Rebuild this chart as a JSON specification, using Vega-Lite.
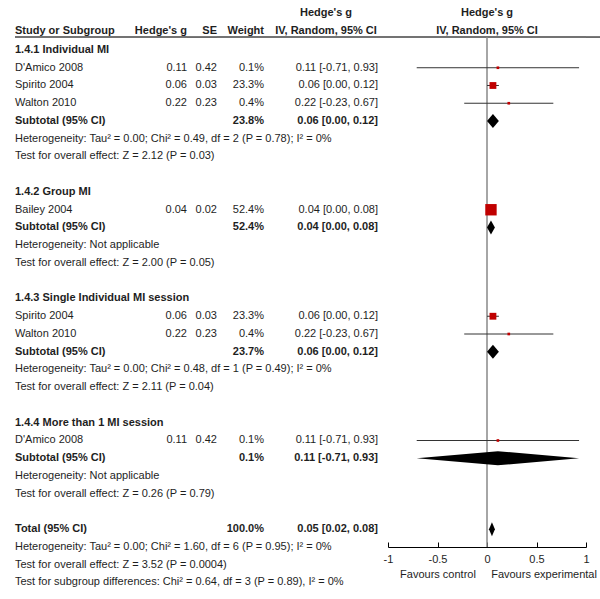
{
  "$schema": "https://vega.github.io/schema/vega-lite/v6.json",
  "padding": {"left": 14, "top": 0, "right": 0, "bottom": 0},
  "bounds": "flush",
  "spacing": 0,
  "background": "white",
  "config": {
    "view": {"stroke": null},
    "font": "Liberation Sans",
    "text": {"font": "Liberation Sans", "fontSize": 11, "color": "#1e1e1e", "baseline": "middle"}
  },
  "resolve": {"scale": {"x": "independent", "y": "independent"}},
  "datasets": {
    "table": [
      {"row": 0, "kind": "heading", "label": "1.4.1 Individual MI"},
      {"row": 1, "kind": "study", "label": "D'Amico 2008", "g": "0.11", "se": "0.42", "w": "0.1%", "ci": "0.11 [-0.71, 0.93]", "est": 0.11, "lo": -0.71, "hi": 0.93, "weight": 0.1},
      {"row": 2, "kind": "study", "label": "Spirito 2004", "g": "0.06", "se": "0.03", "w": "23.3%", "ci": "0.06 [0.00, 0.12]", "est": 0.06, "lo": 0.0, "hi": 0.12, "weight": 23.3},
      {"row": 3, "kind": "study", "label": "Walton 2010", "g": "0.22", "se": "0.23", "w": "0.4%", "ci": "0.22 [-0.23, 0.67]", "est": 0.22, "lo": -0.23, "hi": 0.67, "weight": 0.4},
      {"row": 4, "kind": "subtotal", "label": "Subtotal (95% CI)", "w": "23.8%", "ci": "0.06 [0.00, 0.12]", "est": 0.06, "lo": 0.0, "hi": 0.12},
      {"row": 5, "kind": "note", "label": "Heterogeneity: Tau² = 0.00; Chi² = 0.49, df = 2 (P = 0.78); I² = 0%"},
      {"row": 6, "kind": "note", "label": "Test for overall effect: Z = 2.12 (P = 0.03)"},
      {"row": 8, "kind": "heading", "label": "1.4.2 Group MI"},
      {"row": 9, "kind": "study", "label": "Bailey 2004", "g": "0.04", "se": "0.02", "w": "52.4%", "ci": "0.04 [0.00, 0.08]", "est": 0.04, "lo": 0.0, "hi": 0.08, "weight": 52.4},
      {"row": 10, "kind": "subtotal", "label": "Subtotal (95% CI)", "w": "52.4%", "ci": "0.04 [0.00, 0.08]", "est": 0.04, "lo": 0.0, "hi": 0.08},
      {"row": 11, "kind": "note", "label": "Heterogeneity: Not applicable"},
      {"row": 12, "kind": "note", "label": "Test for overall effect: Z = 2.00 (P = 0.05)"},
      {"row": 14, "kind": "heading", "label": "1.4.3 Single Individual MI session"},
      {"row": 15, "kind": "study", "label": "Spirito 2004", "g": "0.06", "se": "0.03", "w": "23.3%", "ci": "0.06 [0.00, 0.12]", "est": 0.06, "lo": 0.0, "hi": 0.12, "weight": 23.3},
      {"row": 16, "kind": "study", "label": "Walton 2010", "g": "0.22", "se": "0.23", "w": "0.4%", "ci": "0.22 [-0.23, 0.67]", "est": 0.22, "lo": -0.23, "hi": 0.67, "weight": 0.4},
      {"row": 17, "kind": "subtotal", "label": "Subtotal (95% CI)", "w": "23.7%", "ci": "0.06 [0.00, 0.12]", "est": 0.06, "lo": 0.0, "hi": 0.12},
      {"row": 18, "kind": "note", "label": "Heterogeneity: Tau² = 0.00; Chi² = 0.48, df = 1 (P = 0.49); I² = 0%"},
      {"row": 19, "kind": "note", "label": "Test for overall effect: Z = 2.11 (P = 0.04)"},
      {"row": 21, "kind": "heading", "label": "1.4.4 More than 1 MI session"},
      {"row": 22, "kind": "study", "label": "D'Amico 2008", "g": "0.11", "se": "0.42", "w": "0.1%", "ci": "0.11 [-0.71, 0.93]", "est": 0.11, "lo": -0.71, "hi": 0.93, "weight": 0.1},
      {"row": 23, "kind": "subtotal", "label": "Subtotal (95% CI)", "w": "0.1%", "ci": "0.11 [-0.71, 0.93]", "est": 0.11, "lo": -0.71, "hi": 0.93},
      {"row": 24, "kind": "note", "label": "Heterogeneity: Not applicable"},
      {"row": 25, "kind": "note", "label": "Test for overall effect: Z = 0.26 (P = 0.79)"},
      {"row": 27, "kind": "total", "label": "Total (95% CI)", "w": "100.0%", "ci": "0.05 [0.02, 0.08]", "est": 0.05, "lo": 0.02, "hi": 0.08},
      {"row": 28, "kind": "note", "label": "Heterogeneity: Tau² = 0.00; Chi² = 1.60, df = 6 (P = 0.95); I² = 0%"},
      {"row": 29, "kind": "note", "label": "Test for overall effect: Z = 3.52 (P = 0.0004)"},
      {"row": 30, "kind": "note", "label": "Test for subgroup differences: Chi² = 0.64, df = 3 (P = 0.89), I² = 0%"}
    ],
    "head": [
      {"row": -1, "col": "study", "text": "Study or Subgroup"},
      {"row": -1, "col": "g", "text": "Hedge's g"},
      {"row": -1, "col": "se", "text": "SE"},
      {"row": -1, "col": "w", "text": "Weight"},
      {"row": -2, "col": "ci", "text": "Hedge's g"},
      {"row": -1, "col": "ci", "text": "IV, Random, 95% CI"},
      {"row": -2, "col": "plot", "text": "Hedge's g"},
      {"row": -1, "col": "plot", "text": "IV, Random, 95% CI"}
    ]
  },
  "hconcat": [
    {
      "width": 136, "height": 599,
      "layer": [
        {"data": {"name": "table"}, "transform": [{"filter": "datum.kind === 'study' || datum.kind === 'note'"}],
         "mark": {"type": "text", "align": "left"},
         "encoding": {"x": {"datum": 0, "type": "quantitative", "scale": {"domain": [0, 1]}, "axis": null},
                      "y": {"field": "row", "type": "quantitative", "scale": {"domain": [-2.8169, 30.93], "reverse": true, "nice": false, "zero": false}, "axis": null},
                      "text": {"field": "label"}}},
        {"data": {"name": "table"}, "transform": [{"filter": "datum.kind === 'heading' || datum.kind === 'subtotal' || datum.kind === 'total'"}],
         "mark": {"type": "text", "align": "left", "fontWeight": "bold"},
         "encoding": {"x": {"datum": 0, "type": "quantitative", "scale": {"domain": [0, 1]}, "axis": null},
                      "y": {"field": "row", "type": "quantitative", "scale": {"domain": [-2.8169, 30.93], "reverse": true, "nice": false, "zero": false}, "axis": null},
                      "text": {"field": "label"}}},
        {"data": {"name": "head"}, "transform": [{"filter": "datum.col === 'study'"}],
         "mark": {"type": "text", "align": "left", "fontWeight": "bold", "dy": -1},
         "encoding": {"x": {"datum": 0, "type": "quantitative", "scale": {"domain": [0, 1]}, "axis": null},
                      "y": {"field": "row", "type": "quantitative", "scale": {"domain": [-2.8169, 30.93], "reverse": true, "nice": false, "zero": false}, "axis": null},
                      "text": {"field": "text"}}},
        {"data": {"values": [{}]}, "mark": {"type": "rule", "color": "#444", "strokeWidth": 1.5},
         "encoding": {"y": {"datum": -0.73, "type": "quantitative", "scale": {"domain": [-2.8169, 30.93], "reverse": true, "nice": false, "zero": false}, "axis": null}}}
      ]
    },
    {
      "width": 36, "height": 599,
      "layer": [
        {"data": {"name": "table"}, "transform": [{"filter": "datum.kind === 'study'"}],
         "mark": {"type": "text", "align": "right"},
         "encoding": {"x": {"datum": 1, "type": "quantitative", "scale": {"domain": [0, 1]}, "axis": null},
                      "y": {"field": "row", "type": "quantitative", "scale": {"domain": [-2.8169, 30.93], "reverse": true, "nice": false, "zero": false}, "axis": null},
                      "text": {"field": "g"}}},
        {"data": {"name": "head"}, "transform": [{"filter": "datum.col === 'g'"}],
         "mark": {"type": "text", "align": "right", "fontWeight": "bold", "dy": -1},
         "encoding": {"x": {"datum": 1, "type": "quantitative", "scale": {"domain": [0, 1]}, "axis": null},
                      "y": {"field": "row", "type": "quantitative", "scale": {"domain": [-2.8169, 30.93], "reverse": true, "nice": false, "zero": false}, "axis": null},
                      "text": {"field": "text"}}},
        {"data": {"values": [{}]}, "mark": {"type": "rule", "color": "#444", "strokeWidth": 1.5},
         "encoding": {"y": {"datum": -0.73, "type": "quantitative", "scale": {"domain": [-2.8169, 30.93], "reverse": true, "nice": false, "zero": false}, "axis": null}}}
      ]
    },
    {
      "width": 30, "height": 599,
      "layer": [
        {"data": {"name": "table"}, "transform": [{"filter": "datum.kind === 'study'"}],
         "mark": {"type": "text", "align": "right"},
         "encoding": {"x": {"datum": 1, "type": "quantitative", "scale": {"domain": [0, 1]}, "axis": null},
                      "y": {"field": "row", "type": "quantitative", "scale": {"domain": [-2.8169, 30.93], "reverse": true, "nice": false, "zero": false}, "axis": null},
                      "text": {"field": "se"}}},
        {"data": {"name": "head"}, "transform": [{"filter": "datum.col === 'se'"}],
         "mark": {"type": "text", "align": "right", "fontWeight": "bold", "dy": -1},
         "encoding": {"x": {"datum": 1, "type": "quantitative", "scale": {"domain": [0, 1]}, "axis": null},
                      "y": {"field": "row", "type": "quantitative", "scale": {"domain": [-2.8169, 30.93], "reverse": true, "nice": false, "zero": false}, "axis": null},
                      "text": {"field": "text"}}},
        {"data": {"values": [{}]}, "mark": {"type": "rule", "color": "#444", "strokeWidth": 1.5},
         "encoding": {"y": {"datum": -0.73, "type": "quantitative", "scale": {"domain": [-2.8169, 30.93], "reverse": true, "nice": false, "zero": false}, "axis": null}}}
      ]
    },
    {
      "width": 47, "height": 599,
      "layer": [
        {"data": {"name": "table"}, "transform": [{"filter": "datum.kind === 'study'"}],
         "mark": {"type": "text", "align": "right"},
         "encoding": {"x": {"datum": 1, "type": "quantitative", "scale": {"domain": [0, 1]}, "axis": null},
                      "y": {"field": "row", "type": "quantitative", "scale": {"domain": [-2.8169, 30.93], "reverse": true, "nice": false, "zero": false}, "axis": null},
                      "text": {"field": "w"}}},
        {"data": {"name": "table"}, "transform": [{"filter": "datum.kind === 'subtotal' || datum.kind === 'total'"}],
         "mark": {"type": "text", "align": "right", "fontWeight": "bold"},
         "encoding": {"x": {"datum": 1, "type": "quantitative", "scale": {"domain": [0, 1]}, "axis": null},
                      "y": {"field": "row", "type": "quantitative", "scale": {"domain": [-2.8169, 30.93], "reverse": true, "nice": false, "zero": false}, "axis": null},
                      "text": {"field": "w"}}},
        {"data": {"name": "head"}, "transform": [{"filter": "datum.col === 'w'"}],
         "mark": {"type": "text", "align": "right", "fontWeight": "bold", "dy": -1},
         "encoding": {"x": {"datum": 1, "type": "quantitative", "scale": {"domain": [0, 1]}, "axis": null},
                      "y": {"field": "row", "type": "quantitative", "scale": {"domain": [-2.8169, 30.93], "reverse": true, "nice": false, "zero": false}, "axis": null},
                      "text": {"field": "text"}}},
        {"data": {"values": [{}]}, "mark": {"type": "rule", "color": "#444", "strokeWidth": 1.5},
         "encoding": {"y": {"datum": -0.73, "type": "quantitative", "scale": {"domain": [-2.8169, 30.93], "reverse": true, "nice": false, "zero": false}, "axis": null}}}
      ]
    },
    {
      "width": 124, "height": 599,
      "layer": [
        {"data": {"name": "table"}, "transform": [{"filter": "datum.kind === 'study'"}],
         "mark": {"type": "text", "align": "right", "dx": -10},
         "encoding": {"x": {"datum": 1, "type": "quantitative", "scale": {"domain": [0, 1]}, "axis": null},
                      "y": {"field": "row", "type": "quantitative", "scale": {"domain": [-2.8169, 30.93], "reverse": true, "nice": false, "zero": false}, "axis": null},
                      "text": {"field": "ci"}}},
        {"data": {"name": "table"}, "transform": [{"filter": "datum.kind === 'subtotal' || datum.kind === 'total'"}],
         "mark": {"type": "text", "align": "right", "fontWeight": "bold", "dx": -10},
         "encoding": {"x": {"datum": 1, "type": "quantitative", "scale": {"domain": [0, 1]}, "axis": null},
                      "y": {"field": "row", "type": "quantitative", "scale": {"domain": [-2.8169, 30.93], "reverse": true, "nice": false, "zero": false}, "axis": null},
                      "text": {"field": "ci"}}},
        {"data": {"name": "head"}, "transform": [{"filter": "datum.col === 'ci'"}],
         "mark": {"type": "text", "align": "center", "fontWeight": "bold", "dy": -1},
         "encoding": {"x": {"datum": 0.5, "type": "quantitative", "scale": {"domain": [0, 1]}, "axis": null},
                      "y": {"field": "row", "type": "quantitative", "scale": {"domain": [-2.8169, 30.93], "reverse": true, "nice": false, "zero": false}, "axis": null},
                      "text": {"field": "text"}}},
        {"data": {"values": [{}]}, "mark": {"type": "rule", "color": "#444", "strokeWidth": 1.5},
         "encoding": {"y": {"datum": -0.73, "type": "quantitative", "scale": {"domain": [-2.8169, 30.93], "reverse": true, "nice": false, "zero": false}, "axis": null}}}
      ]
    },
    {
      "width": 198, "height": 547,
      "layer": [
        {"data": {"values": [{}]}, "mark": {"type": "rule", "color": "#444", "strokeWidth": 1.5},
         "encoding": {"y": {"datum": -0.73, "type": "quantitative", "scale": {"domain": [-2.8169, 28.0], "reverse": true, "nice": false, "zero": false}, "axis": null}}},
        {"data": {"values": [{}]}, "mark": {"type": "rule", "color": "#888", "strokeWidth": 1.5},
         "encoding": {"x": {"datum": 0, "type": "quantitative", "scale": {"domain": [-1, 1], "nice": false, "zero": false},
                            "axis": {"values": [-1, -0.5, 0, 0.5, 1], "labelExpr": "'' + datum.value", "grid": false, "domainColor": "#000", "tickColor": "#000", "tickSize": -5, "labelPadding": 11, "labelFontSize": 11, "labelFont": "Liberation Sans", "labelColor": "#1e1e1e", "labelFlush": false, "title": "Favours control\u00a0\u00a0\u00a0\u00a0\u00a0Favours experimental", "titleFontWeight": "normal", "titleFontSize": 11, "titleFont": "Liberation Sans", "titleColor": "#1e1e1e", "titleX": 110, "titleY": 27, "titleBaseline": "middle", "titleAlign": "center"}},
                      "y": {"datum": -0.73, "type": "quantitative", "scale": {"domain": [-2.8169, 28.0], "reverse": true, "nice": false, "zero": false}, "axis": null},
                      "y2": {"datum": 28.0}}},
        {"data": {"name": "head"}, "transform": [{"filter": "datum.col === 'plot'"}],
         "mark": {"type": "text", "align": "center", "fontWeight": "bold", "dy": -1},
         "encoding": {"x": {"datum": 0, "type": "quantitative", "scale": {"domain": [-1, 1], "nice": false, "zero": false}},
                      "y": {"field": "row", "type": "quantitative", "scale": {"domain": [-2.8169, 28.0], "reverse": true, "nice": false, "zero": false}, "axis": null},
                      "text": {"field": "text"}}},
        {"data": {"name": "table"}, "transform": [{"filter": "datum.kind === 'study'"}],
         "mark": {"type": "rule", "color": "#333", "strokeWidth": 1},
         "encoding": {"x": {"field": "lo", "type": "quantitative", "scale": {"domain": [-1, 1], "nice": false, "zero": false}},
                      "x2": {"field": "hi"},
                      "y": {"field": "row", "type": "quantitative", "scale": {"domain": [-2.8169, 28.0], "reverse": true, "nice": false, "zero": false}, "axis": null}}},
        {"data": {"name": "table"}, "transform": [{"filter": "datum.kind === 'study'"}],
         "mark": {"type": "square", "filled": true, "color": "#c00000", "opacity": 1},
         "encoding": {"x": {"field": "est", "type": "quantitative", "scale": {"domain": [-1, 1], "nice": false, "zero": false}},
                      "y": {"field": "row", "type": "quantitative", "scale": {"domain": [-2.8169, 28.0], "reverse": true, "nice": false, "zero": false}, "axis": null},
                      "size": {"field": "weight", "type": "quantitative", "scale": {"type": "pow", "exponent": 1.4, "domain": [0, 52.4], "range": [7, 130]}, "legend": null}}},
        {"data": {"name": "table"}, "transform": [{"filter": "datum.kind === 'subtotal' || datum.kind === 'total'"}, {"fold": ["lo", "est", "hi"], "as": ["key", "value"]}],
         "mark": {"type": "area", "orient": "vertical", "color": "#000", "opacity": 1, "yOffset": {"expr": "datum.key === 'est' ? -7 : 0"}, "y2Offset": {"expr": "datum.key === 'est' ? 7 : 0"}},
         "encoding": {"x": {"field": "value", "type": "quantitative", "scale": {"domain": [-1, 1], "nice": false, "zero": false}},
                      "y": {"field": "row", "type": "quantitative", "stack": null, "scale": {"domain": [-2.8169, 28.0], "reverse": true, "nice": false, "zero": false}, "axis": null},
                      "y2": {"field": "row"},
                      "detail": {"field": "row", "type": "nominal"}}}
      ]
    },
    {
      "width": 15, "height": 599,
      "layer": [
        {"data": {"values": [{}]}, "mark": {"type": "rule", "color": "#444", "strokeWidth": 1.5},
         "encoding": {"y": {"datum": -0.73, "type": "quantitative", "scale": {"domain": [-2.8169, 30.93], "reverse": true, "nice": false, "zero": false}, "axis": null}}}
      ]
    }
  ]
}
